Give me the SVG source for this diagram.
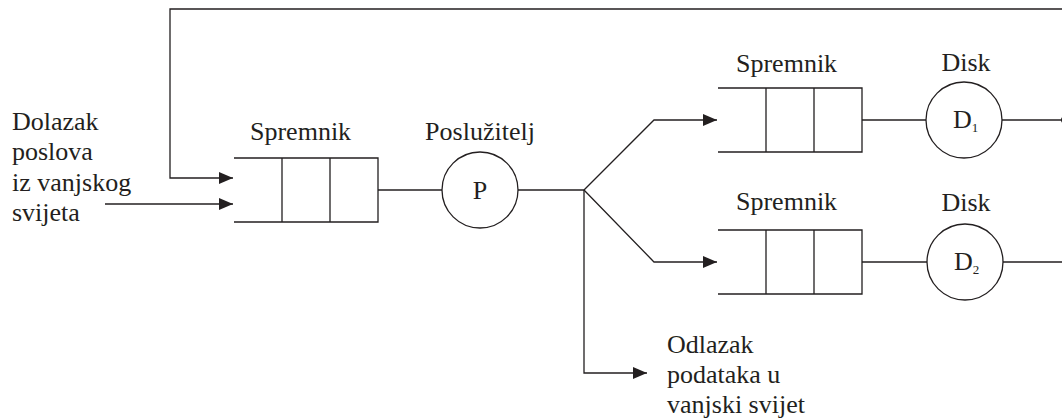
<svg xmlns="http://www.w3.org/2000/svg" width="1062" height="419" viewBox="0 0 1062 419">
<style>
.ln{fill:none;stroke:#231f20;stroke-width:1.3}
.q{fill:none;stroke:#231f20;stroke-width:1.3}
.c{fill:#fff;stroke:#231f20;stroke-width:1.3}
text{font-family:"Liberation Serif","Times New Roman",serif;font-size:26px;fill:#231f20}
.sub{font-size:13px}
</style>
<defs>
<marker id="ah" markerUnits="userSpaceOnUse" markerWidth="16" markerHeight="14" refX="15" refY="7" orient="auto">
<path d="M1,1 L15,7 L1,13 Z" fill="#231f20"/>
</marker>
</defs>
<rect width="1062" height="419" fill="#fff"/>
<g id="connectors">
<path class="ln" d="M1065,120 L1065,9 L170,9 L170,178 L233,178" marker-end="url(#ah)"/>
<path class="ln" d="M105,204 L233,204" marker-end="url(#ah)"/>
<path class="ln" d="M378,190 L442,190"/>
<path class="ln" d="M518,190 L584,190"/>
<path class="ln" d="M584,190 L654,120 L717,120" marker-end="url(#ah)"/>
<path class="ln" d="M584,190 L654,262 L717,262" marker-end="url(#ah)"/>
<path class="ln" d="M584,190 L584,373 L647,373" marker-end="url(#ah)"/>
<path class="ln" d="M862,120 L926,120"/>
<path class="ln" d="M1002,120 L1065,120"/>
<path class="ln" d="M862,262 L927,262"/>
<path class="ln" d="M1003,262 L1065,262 L1065,120"/>
<circle cx="1064.5" cy="120" r="3.5" fill="#231f20"/>
</g>
<g id="input-label">
<text x="12" y="130">Dolazak</text>
<text x="12" y="160">poslova</text>
<text x="12" y="191">iz vanjskog</text>
<text x="12" y="221">svijeta</text>
</g>
<g id="queue-main">
<text x="250" y="140">Spremnik</text>
<path class="q" d="M234,158 L378,158 L378,222 L234,222 M282,158 L282,222 M330,158 L330,222"/>
</g>
<g id="server-p">
<text x="480" y="140" text-anchor="middle">Poslužitelj</text>
<circle class="c" cx="480" cy="190" r="38"/>
<text x="480" y="199" text-anchor="middle">P</text>
</g>
<g id="queue-d1">
<text x="736" y="72">Spremnik</text>
<path class="q" d="M718,88 L862,88 L862,152 L718,152 M766,88 L766,152 M814,88 L814,152"/>
</g>
<g id="disk-d1">
<text x="966" y="71" text-anchor="middle">Disk</text>
<circle class="c" cx="964" cy="120" r="38"/>
<text x="953" y="128">D<tspan class="sub" dy="4">1</tspan></text>
</g>
<g id="queue-d2">
<text x="736" y="210">Spremnik</text>
<path class="q" d="M718,230 L862,230 L862,294 L718,294 M766,230 L766,294 M814,230 L814,294"/>
</g>
<g id="disk-d2">
<text x="966" y="211" text-anchor="middle">Disk</text>
<circle class="c" cx="965" cy="262" r="38"/>
<text x="954" y="270">D<tspan class="sub" dy="4">2</tspan></text>
</g>
<g id="output-label">
<text x="667" y="353">Odlazak</text>
<text x="667" y="383">podataka u</text>
<text x="667" y="413">vanjski svijet</text>
</g>
</svg>
